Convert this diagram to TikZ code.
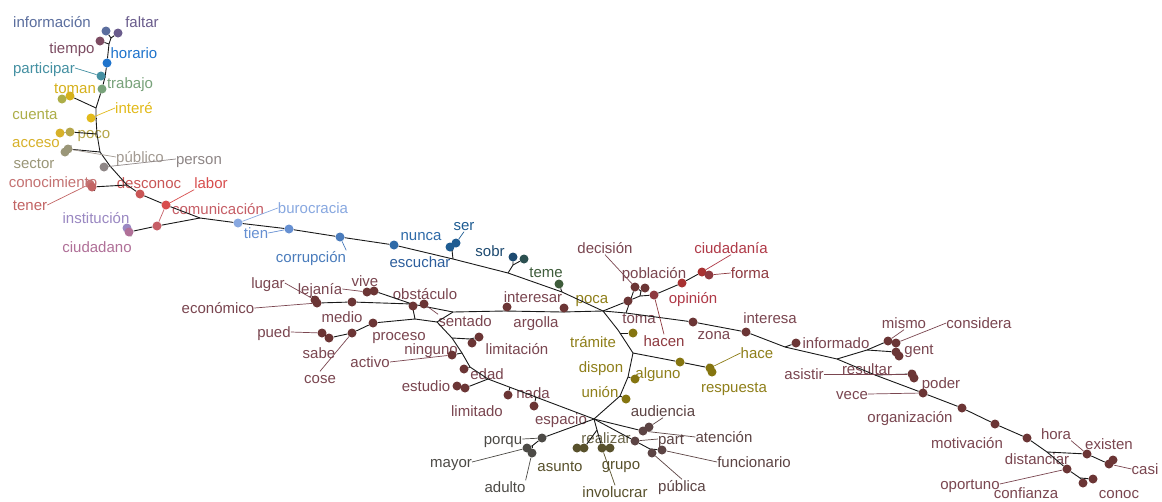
\documentclass[tikz,border=0pt]{standalone}
\usepackage{fontspec}
\setmainfont{Liberation Sans}
\pgfdeclarelayer{bgfill}
\pgfdeclarelayer{labels}
\pgfdeclarelayer{edges}
\pgfsetlayers{bgfill,labels,edges,main}
\definecolor{cInfo}{HTML}{5B6E9E}
\definecolor{cFalt}{HTML}{6A5C8C}
\definecolor{cTiem}{HTML}{7C4C62}
\definecolor{cHora}{HTML}{1F74CC}
\definecolor{cPart}{HTML}{4490A2}
\definecolor{cTrab}{HTML}{78A27A}
\definecolor{cToman}{HTML}{D6B11C}
\definecolor{cCuen}{HTML}{ADAE48}
\definecolor{cInte}{HTML}{E2BA1A}
\definecolor{cAcce}{HTML}{D7B12A}
\definecolor{cPoco}{HTML}{B5A64A}
\definecolor{cSect}{HTML}{9A9678}
\definecolor{cPub}{HTML}{A29A92}
\definecolor{cPers}{HTML}{8E8686}
\definecolor{cCono}{HTML}{C47272}
\definecolor{cDesc}{HTML}{C95656}
\definecolor{cTene}{HTML}{C26464}
\definecolor{cLabo}{HTML}{D84E4E}
\definecolor{cComu}{HTML}{C65E66}
\definecolor{cInst}{HTML}{9A88C2}
\definecolor{cCiuo}{HTML}{B07098}
\definecolor{cBuro}{HTML}{88A8E0}
\definecolor{cTien}{HTML}{6690D2}
\definecolor{cCorr}{HTML}{4A7CBC}
\definecolor{cNunc}{HTML}{2E6AA8}
\definecolor{cEsc}{HTML}{2D5E9C}
\definecolor{cSer}{HTML}{1E5C92}
\definecolor{cSob1}{HTML}{1D4A70}
\definecolor{cSob2}{HTML}{2C5050}
\definecolor{cTeme}{HTML}{3E5C3A}
\definecolor{cMar}{HTML}{6B3535}
\definecolor{cMarT}{HTML}{7A4650}
\definecolor{cRed}{HTML}{A83232}
\definecolor{cRedT}{HTML}{B03A48}
\definecolor{cRedD}{HTML}{8E3A40}
\definecolor{cOli}{HTML}{857510}
\definecolor{cOliT}{HTML}{8F7F1A}
\definecolor{cGry}{HTML}{4C4A46}
\definecolor{cAsu}{HTML}{58512C}
\definecolor{cAsuL}{HTML}{6A6448}
\definecolor{cAud}{HTML}{5C4444}
\begin{document}
\begin{tikzpicture}[x=1pt,y=-1pt,
  leaf/.style={circle,fill=#1,inner sep=0pt,minimum size=9pt},
  lbl/.style={text=#1,inner sep=0pt,font=\fontsize{15}{15}\selectfont,text height=12pt,text depth=1pt},
  treeline/.style={draw=black!90,line width=0.9pt,line join=round},
  leadline/.style={draw=#1,line width=0.7pt}]
\begin{pgfonlayer}{bgfill}
\fill[white] (0,0) rectangle (1162,501);
\end{pgfonlayer}
\useasboundingbox (0,0) rectangle (1162,501);

% ---------------- junctions ----------------
\coordinate (jA) at (111,38);
\coordinate (jB) at (109,44);
\coordinate (jPc) at (105,77);
\coordinate (jC) at (96,108);
\coordinate (jIn) at (96,118);
\coordinate (jD) at (97,134);
\coordinate (jE) at (100,152);
\coordinate (jPe) at (110,166);
\coordinate (jF) at (127,185);
\coordinate (jG) at (200,218);
\coordinate (jH) at (453,259);
\coordinate (jHs) at (452,250);
\coordinate (jI) at (508,273);
\coordinate (jIs) at (513,265);
\coordinate (jTm) at (562,292);
\coordinate (jP) at (603,311);
\coordinate (jL) at (412,304);
\coordinate (jM) at (453,312);
\coordinate (jN) at (415,319);
\coordinate (jO) at (437,322);
\coordinate (jLm) at (452,338);
\coordinate (jLm2) at (470,339);
\coordinate (jNg) at (462,353);
\coordinate (jEd) at (470,367);
\coordinate (jEs) at (488,379);
\coordinate (jLi) at (510,387);
\coordinate (jNa) at (536,397);
\coordinate (jEsp) at (594,419);
\coordinate (jMa) at (505,311);
\coordinate (jMb) at (562,312);
\coordinate (jT) at (626,313);
\coordinate (jQ) at (640,296);
\coordinate (jQp) at (641,291);
\coordinate (jS1) at (785,347);
\coordinate (jS2) at (837,359);
\coordinate (jS3) at (875,375);
\coordinate (jMis) at (867,350);
\coordinate (jS4) at (1047,452);
\coordinate (jS5) at (1080,478);
\coordinate (jTr1) at (618,330);
\coordinate (jTr2) at (633,353);
\coordinate (jTrm) at (620,333);
\coordinate (jAl) at (628,377);
\coordinate (jUn) at (620,396);
\coordinate (jMy) at (532,446);
\coordinate (jRe) at (597,430);
\coordinate (jPf) at (650,449);

% ---------------- dots ----------------
\node[leaf=cInfo] (dInfo) at (106,31) {};
\node[leaf=cFalt] (dFalt) at (118,33) {};
\node[leaf=cTiem] (dTiem) at (100,41) {};
\node[leaf=cHora] (dHora) at (107,63) {};
\node[leaf=cPart] (dPcp) at (101,76) {};
\node[leaf=cTrab] (dTrab) at (102,89) {};
\node[leaf=cToman] (dToma) at (70,96) {};
\node[leaf=cCuen] (dCuen) at (62,99) {};
\node[leaf=cInte] (dInte) at (91,118) {};
\node[leaf=cAcce] (dAcce) at (60,133) {};
\node[leaf=cPoco] (dPoco) at (70,132) {};
\node[leaf=cSect] (dSec1) at (65,152) {};
\node[leaf=cSect] (dSec2) at (68,149) {};
\node[leaf=cPers] (dPers) at (104,167) {};
\node[leaf=cCono] (dCono) at (90,184) {};
\node[leaf=cTene] (dTene) at (92,187) {};
\node[leaf=cDesc] (dDesc) at (140,194) {};
\node[leaf=cLabo] (dLabo) at (166,205) {};
\node[leaf=cComu] (dComu) at (157,226) {};
\node[leaf=cInst] (dInst) at (127,228) {};
\node[leaf=cCiuo] (dCiuo) at (129,232) {};
\node[leaf=cBuro] (dBuro) at (238,223) {};
\node[leaf=cTien] (dTien) at (289,229) {};
\node[leaf=cCorr] (dCorr) at (340,237) {};
\node[leaf=cNunc] (dNunc) at (394,245) {};
\node[leaf=cSer] (dSer1) at (450,247) {};
\node[leaf=cSer] (dSer2) at (456,243) {};
\node[leaf=cSob1] (dSob1) at (513,257) {};
\node[leaf=cSob2] (dSob2) at (524,259) {};
\node[leaf=cTeme] (dTeme) at (559,284) {};

\node[leaf=cMar] (dLuga) at (315,300) {};
\node[leaf=cMar] (dEcon) at (317,303) {};
\node[leaf=cMar] (dMedi) at (352,302) {};
\node[leaf=cMar] (dViv1) at (367,292) {};
\node[leaf=cMar] (dViv2) at (374,291) {};
\node[leaf=cMar] (dObs1) at (413,306) {};
\node[leaf=cMar] (dObs2) at (424,304) {};
\node[leaf=cMar] (dPue1) at (322,333) {};
\node[leaf=cMar] (dPue2) at (329,338) {};
\node[leaf=cMar] (dCose) at (352,333) {};
\node[leaf=cMar] (dProc) at (373,323) {};
\node[leaf=cMar] (dLim1) at (472,343) {};
\node[leaf=cMar] (dLim2) at (479,337) {};
\node[leaf=cMar] (dNing) at (452,355) {};
\node[leaf=cMar] (dEdad) at (464,369) {};
\node[leaf=cMar] (dEst1) at (457,386) {};
\node[leaf=cMar] (dEst2) at (465,388) {};
\node[leaf=cMar] (dLimi) at (508,395) {};
\node[leaf=cMar] (dNada) at (534,406) {};
\node[leaf=cMar] (dIres) at (507,307) {};
\node[leaf=cMar] (dArgo) at (564,308) {};

\node[leaf=cMar] (dPoca) at (628,301) {};
\node[leaf=cMar] (dPob1) at (635,287) {};
\node[leaf=cMar] (dPob2) at (645,288) {};
\node[leaf=cRedD] (dHace) at (654,295) {};
\node[leaf=cRed] (dOpin) at (682,283) {};
\node[leaf=cRed] (dCiud) at (702,272) {};
\node[leaf=cRedD] (dForm) at (709,275) {};
\node[leaf=cMar] (dZona) at (693,322) {};
\node[leaf=cMar] (dInta) at (746,332) {};
\node[leaf=cMar] (dInfm) at (796,343) {};
\node[leaf=cMar] (dMism) at (888,341) {};
\node[leaf=cMar] (dCons) at (896,343) {};
\node[leaf=cMar] (dGen1) at (896,352) {};
\node[leaf=cMar] (dGen2) at (899,356) {};
\node[leaf=cMar] (dRes1) at (912,374) {};
\node[leaf=cMar] (dRes2) at (914,378) {};
\node[leaf=cMar] (dPode) at (923,393) {};
\node[leaf=cMar] (dOrga) at (962,408) {};
\node[leaf=cMar] (dMoti) at (995,424) {};
\node[leaf=cMar] (dHor2) at (1027,438) {};
\node[leaf=cMar] (dExis) at (1087,454) {};
\node[leaf=cMar] (dCas1) at (1109,464) {};
\node[leaf=cMar] (dCas2) at (1113,460) {};
\node[leaf=cMar] (dOpor) at (1067,469) {};
\node[leaf=cMar] (dConf) at (1083,483) {};
\node[leaf=cMar] (dCnoc) at (1093,479) {};

\node[leaf=cOli] (dTram) at (633,333) {};
\node[leaf=cOli] (dAlgu) at (635,379) {};
\node[leaf=cOli] (dUnio) at (626,399) {};
\node[leaf=cOli] (dAlgR) at (680,362) {};
\node[leaf=cOli] (dHac1) at (710,368) {};
\node[leaf=cOli] (dHac2) at (712,372) {};
\node[leaf=cGry] (dPorq) at (542,438) {};
\node[leaf=cGry] (dMay) at (527,448) {};
\node[leaf=cGry] (dAdu) at (532,453) {};
\node[leaf=cAsu] (dAsu1) at (577,448) {};
\node[leaf=cAsu] (dAsu2) at (584,448) {};
\node[leaf=cAsu] (dGru1) at (602,448) {};
\node[leaf=cAsu] (dGru2) at (610,448) {};
\node[leaf=cAud] (dAud1) at (643,431) {};
\node[leaf=cAud] (dAud2) at (649,427) {};
\node[leaf=cAud] (dPar) at (635,441) {};
\node[leaf=cAud] (dPub) at (652,453) {};
\node[leaf=cAud] (dFunc) at (662,450) {};

% ---------------- labels ----------------
\begin{pgfonlayer}{labels}
\node[lbl=cInfo] (Linfo) at (52,22) {información};
\node[lbl=cFalt] (Lfalt) at (142,22) {faltar};
\node[lbl=cTiem] (Ltiem) at (72,48) {tiempo};
\node[lbl=cHora] (Lhora) at (134,53) {horario};
\node[lbl=cPart] (Lpart) at (44,68) {participar};
\node[lbl=cTrab] (Ltrab) at (130,83) {trabajo};
\node[lbl=cToman] (Ltoma) at (75,88) {toman};
\node[lbl=cCuen] (Lcuen) at (35,114) {cuenta};
\node[lbl=cInte] (Linte) at (134,108) {interé};
\node[lbl=cAcce] (Lacce) at (36,142) {acceso};
\node[lbl=cPoco] (Lpoco) at (94,133) {poco};
\node[lbl=cSect] (Lsect) at (34,163) {sector};
\node[lbl=cPub] (Lpub) at (140,157) {público};
\node[lbl=cPers] (Lpers) at (199,159) {person};
\node[lbl=cCono] (Lcono) at (53,182) {conocimiento};
\node[lbl=cDesc] (Ldesc) at (149,183) {desconoc};
\node[lbl=cTene] (Ltene) at (30,205) {tener};
\node[lbl=cLabo] (Llabo) at (211,183) {labor};
\node[lbl=cComu] (Lcomu) at (218,209) {comunicación};
\node[lbl=cInst] (Linst) at (96,218) {institución};
\node[lbl=cCiuo] (Lciuo) at (97,247) {ciudadano};
\node[lbl=cBuro] (Lburo) at (313,208) {burocracia};
\node[lbl=cTien] (Ltien) at (256,233) {tien};
\node[lbl=cCorr] (Lcorr) at (311,257) {corrupción};
\node[lbl=cNunc] (Lnunc) at (421,235) {nunca};
\node[lbl=cEsc] (Lesc) at (420,262) {escuchar};
\node[lbl=cSer] (Lser) at (464,225) {ser};
\node[lbl=cSob1] (Lsobr) at (490,251) {sobr};
\node[lbl=cTeme] (Lteme) at (546,272) {teme};

\node[lbl=cMarT] (Lluga) at (268,283) {lugar};
\node[lbl=cMarT] (Lleja) at (320,289) {lejanía};
\node[lbl=cMarT] (Lvive) at (365,281) {vive};
\node[lbl=cMarT] (Lecon) at (218,308) {económico};
\node[lbl=cMarT] (Lobst) at (425,294) {obstáculo};
\node[lbl=cMarT] (Lmedi) at (342,317) {medio};
\node[lbl=cMarT] (Lsent) at (465,321) {sentado};
\node[lbl=cMarT] (Lpued) at (274,332) {pued};
\node[lbl=cMarT] (Lsabe) at (319,353) {sabe};
\node[lbl=cMarT] (Lcose) at (320,378) {cose};
\node[lbl=cMarT] (Lproc) at (399,335) {proceso};
\node[lbl=cMarT] (Lacti) at (370,362) {activo};
\node[lbl=cMarT] (Lning) at (431,349) {ninguno};
\node[lbl=cMarT] (Llim) at (517,349) {limitación};
\node[lbl=cMarT] (Ledad) at (487,374) {edad};
\node[lbl=cMarT] (Lestu) at (426,386) {estudio};
\node[lbl=cMarT] (Llimi) at (477,411) {limitado};
\node[lbl=cMarT] (Lnada) at (533,393) {nada};
\node[lbl=cMarT] (Lires) at (533,297) {interesar};
\node[lbl=cMarT] (Largo) at (536,322) {argolla};

\node[lbl=cMarT] (Ldeci) at (605,248) {decisión};
\node[lbl=cMarT] (Lpobl) at (654,273) {población};
\node[lbl=cRedT] (Lciud) at (731,248) {ciudadanía};
\node[lbl=cRedD] (Lform) at (750,273) {forma};
\node[lbl=cRedT] (Lopin) at (693,298) {opinión};
\node[lbl=cRedD] (Lhacn) at (664,341) {hacen};
\node[lbl=cOliT] (Lpoca) at (592,298) {poca};
\node[lbl=cMarT] (Ltom2) at (639,318) {toma};
\node[lbl=cMarT] (Lzona) at (714,334) {zona};
\node[lbl=cMarT] (Linta) at (770,318) {interesa};
\node[lbl=cMarT] (Linfm) at (836,343) {informado};
\node[lbl=cMarT] (Lmism) at (904,323) {mismo};
\node[lbl=cMarT] (Lcons) at (979,323) {considera};
\node[lbl=cMarT] (Lgent) at (919,349) {gent};
\node[lbl=cMarT] (Lasis) at (804,374) {asistir};
\node[lbl=cMarT] (Lresu) at (867,369) {resultar};
\node[lbl=cMarT] (Lpode) at (941,383) {poder};
\node[lbl=cMarT] (Lvece) at (852,394) {vece};
\node[lbl=cMarT] (Lorga) at (910,417) {organización};
\node[lbl=cMarT] (Lmoti) at (967,443) {motivación};
\node[lbl=cMarT] (Lhor2) at (1056,434) {hora};
\node[lbl=cMarT] (Lexis) at (1109,444) {existen};
\node[lbl=cMarT] (Ldist) at (1037,459) {distanciar};
\node[lbl=cMarT] (Lcasi) at (1145,469) {casi};
\node[lbl=cMarT] (Lopor) at (970,484) {oportuno};
\node[lbl=cMarT] (Lconf) at (1026,493) {confianza};
\node[lbl=cMarT] (Lcnoc) at (1119,493) {conoc};

\node[lbl=cOliT] (Ltram) at (593,342) {trámite};
\node[lbl=cOliT] (Ldisp) at (601,367) {dispon};
\node[lbl=cOliT] (Lalgu) at (658,373) {alguno};
\node[lbl=cOliT] (Lunio) at (600,392) {unión};
\node[lbl=cOliT] (Lhac) at (757,353) {hace};
\node[lbl=cOliT] (Lresp) at (734,387) {respuesta};
\node[lbl=cMarT] (Lespa) at (561,419) {espacio};
\node[lbl=cGry] (Lporq) at (503,439) {porqu};
\node[lbl=cGry] (Lmayo) at (451,462) {mayor};
\node[lbl=cGry] (Ladul) at (505,487) {adulto};
\node[lbl=cAsu] (Lasun) at (560,466) {asunto};
\node[lbl=cAsuL] (Lreal) at (606,438) {realizar};
\node[lbl=cAsu] (Lgrup) at (621,464) {grupo};
\node[lbl=cAsu] (Linvo) at (615,492) {involucrar};
\node[lbl=cAud] (Laudi) at (663,411) {audiencia};
\node[lbl=cAud] (Laten) at (724,437) {atención};
\node[lbl=cAud] (Lpar) at (671,439) {part};
\node[lbl=cAud] (Lfunc) at (754,462) {funcionario};
\node[lbl=cAud] (Lpubl) at (682,486) {pública};
\end{pgfonlayer}

% ---------------- tree lines and leaders ----------------
\begin{pgfonlayer}{edges}
% upper trunk
\draw[treeline] (dInfo) -- (jA) -- (dFalt);
\draw[treeline] (jA) -- (jB) -- (dHora) -- (jPc) -- (dTrab) -- (jC) -- (jIn) -- (jD) -- (jE) -- (jPe) -- (jF) -- (dDesc) -- (dLabo) -- (jG) -- (dBuro) -- (dTien) -- (dCorr) -- (dNunc) -- (jH) -- (jI) -- (jTm) -- (jP);
\draw[treeline] (dTiem) -- (jB);
\draw[treeline] (dPcp) -- (jPc);
\draw[treeline] (jC) -- (dToma) -- (dCuen);
\draw[treeline] (dInte) -- (jIn);
\draw[treeline] (jD) -- (dPoco) -- (dAcce);
\draw[treeline] (jE) -- (dSec2) -- (dSec1);
\draw[treeline] (dPers) -- (jPe);
\draw[treeline] (jF) -- (dTene) -- (dCono);
\draw[treeline] (jG) -- (dComu) -- (dCiuo) -- (dInst);
\draw[treeline] (jH) -- (jHs) -- (dSer1);
\draw[treeline] (jHs) -- (dSer2);
\draw[treeline] (jI) -- (jIs) -- (dSob1);
\draw[treeline] (jIs) -- (dSob2);
\draw[treeline] (jTm) -- (dTeme);
% middle left
\draw[treeline] (dLuga) -- (dEcon) -- (dMedi) -- (jL) -- (jM) -- (jMa) -- (jMb) -- (jP);
\draw[treeline] (dViv1) -- (dViv2) -- (jL);
\draw[treeline] (jL) -- (jN) -- (dProc) -- (dCose) -- (dPue2) -- (dPue1);
\draw[treeline] (jN) -- (jO) -- (jM);
\draw[treeline] (jO) -- (jLm) -- (jNg) -- (jEd) -- (jEs) -- (jEsp);
\draw[treeline] (jLm) -- (jLm2) -- (dLim1);
\draw[treeline] (jLm2) -- (dLim2);
\draw[treeline] (dNing) -- (jNg);
\draw[treeline] (dEdad) -- (jEd);
\draw[treeline] (dEst1) -- (dEst2) -- (jEs);
\draw[treeline] (dLimi) -- (jLi);
\draw[treeline] (dNada) -- (jNa);
\draw[treeline] (dIres) -- (jMa);
\draw[treeline] (dArgo) -- (jMb);
% east
\draw[treeline] (jP) -- (dPoca) -- (jQ) -- (dHace) -- (dOpin) -- (dCiud) -- (dForm);
\draw[treeline] (jQ) -- (jQp) -- (dPob1);
\draw[treeline] (jQp) -- (dPob2);
\draw[treeline] (jT) -- (dPob1);
\draw[treeline] (jP) -- (jT) -- (dZona) -- (dInta) -- (jS1) -- (jS2) -- (jS3) -- (dPode) -- (dOrga) -- (dMoti) -- (dHor2) -- (jS4) -- (dOpor) -- (jS5) -- (dConf);
\draw[treeline] (jS5) -- (dCnoc);
\draw[treeline] (jS1) -- (dInfm);
\draw[treeline] (jS2) -- (jMis) -- (dMism) -- (dCons);
\draw[treeline] (jMis) -- (dGen1) -- (dGen2);
\draw[treeline] (jS3) -- (dRes1) -- (dRes2);
\draw[treeline] (jS4) -- (dExis) -- (dCas1) -- (dCas2);
% lower
\draw[treeline] (jP) -- (jTr1) -- (jTr2) -- (jAl) -- (jUn) -- (jEsp);
\draw[treeline] (jTrm) -- (dTram);
\draw[treeline] (jTr2) -- (dAlgR) -- (dHac1) -- (dHac2);
\draw[treeline] (dAlgu) -- (jAl);
\draw[treeline] (dUnio) -- (jUn);
\draw[treeline] (jEsp) -- (dPorq) -- (jMy) -- (dMay);
\draw[treeline] (jMy) -- (dAdu);
\draw[treeline] (jEsp) -- (jRe) -- (dAsu2) -- (dAsu1);
\draw[treeline] (jRe) -- (dGru1) -- (dGru2);
\draw[treeline] (jEsp) -- (dAud1) -- (dAud2);
\draw[treeline] (jEsp) -- (dPar) -- (jPf) -- (dPub);
\draw[treeline] (jPf) -- (dFunc);
% leaders
\draw[leadline=cPart] (Lpart.east) -- (dPcp);
\draw[leadline=cInte] (Linte.west) -- (dInte);
\draw[leadline=cPub] (Lpub.west) -- (dSec2);
\draw[leadline=cPers] (Lpers.west) -- (dPers);
\draw[leadline=cTene] (Ltene.east) -- (dCono);
\draw[leadline=cLabo] (Llabo.south west) -- (dLabo);
\draw[leadline=cComu] (dComu) -- (dLabo);
\draw[leadline=cBuro] (Lburo.west) -- (dBuro);
\draw[leadline=cTien] (Ltien.east) -- (dTien);
\draw[leadline=cCorr] (Lcorr.north east) -- (dCorr);
\draw[leadline=cSer] (Lser.south) -- (dSer2);
\draw[leadline=cMarT] (Lluga.east) -- (dLuga);
\draw[leadline=cMarT] (Lleja.east) -- (dViv1);
\draw[leadline=cMarT] (Lecon.east) -- (dEcon);
\draw[leadline=cMarT] (Lpued.east) -- (dPue1);
\draw[leadline=cMarT] (Lcose.north) -- (dCose);
\draw[leadline=cMarT] (Lacti.east) -- (dNing);
\draw[leadline=cMarT] (Lsent.north west) -- (dObs2);
\draw[leadline=cMarT] (Ldeci.south) -- (dPob1);
\draw[leadline=cRedT] (Lciud.south) -- (dCiud);
\draw[leadline=cRedD] (Lform.west) -- (dForm);
\draw[leadline=cRedD] (Lhacn.north) -- (dHace);
\draw[leadline=cMarT] (Lmism.south) -- (dMism);
\draw[leadline=cMarT] (Lcons.west) -- (dCons);
\draw[leadline=cMarT] (Lasis.east) -- (dRes1);
\draw[leadline=cMarT] (Lvece.east) -- (dPode);
\draw[leadline=cMarT] (Lhor2.south east) -- (dExis);
\draw[leadline=cMarT] (Lcasi.west) -- (dCas1);
\draw[leadline=cMarT] (Lopor.east) -- (dOpor);
\draw[leadline=cOliT] (Lhac.west) -- (dHac1);
\draw[leadline=cGry] (Lporq.east) -- (dPorq);
\draw[leadline=cGry] (Lmayo.east) -- (dMay);
\draw[leadline=cGry] (Ladul.north east) -- (dAdu);
\draw[leadline=cAsu] (Linvo.north) -- (dGru1);
\draw[leadline=cAud] (Laudi.south) -- (dAud2);
\draw[leadline=cAud] (Laten.west) -- (dAud1);
\draw[leadline=cAud] (Lpar.west) -- (dPar);
\draw[leadline=cAud] (Lfunc.west) -- (dFunc);
\draw[leadline=cAud] (Lpubl.north) -- (dPub);
\end{pgfonlayer}
\end{tikzpicture}
\end{document}
